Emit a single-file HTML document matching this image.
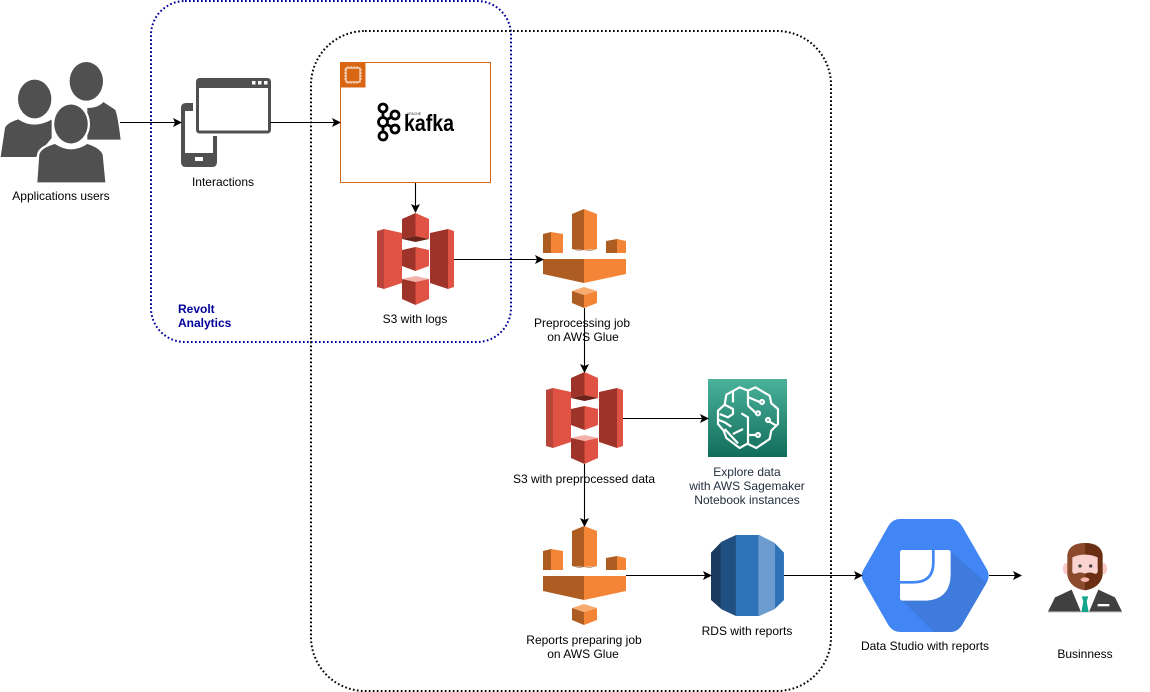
<!DOCTYPE html>
<html><head><meta charset="utf-8"><style>
html,body{margin:0;padding:0;background:#fff;width:1150px;height:692px;overflow:hidden}
svg{display:block}
text{font-family:"Liberation Sans",Arial,sans-serif;font-size:12px;fill:#000;text-anchor:middle}
</style></head><body>
<svg width="1150" height="692" viewBox="0 0 1150 692" xmlns="http://www.w3.org/2000/svg">
<defs>
<marker id="a" markerWidth="10" markerHeight="10" refX="8" refY="4.500" orient="auto" markerUnits="userSpaceOnUse"><path d="M0 0L9 4.500L0 9L2 4.500Z" fill="#000"/></marker>
<linearGradient id="sg" x1="0" y1="0" x2="0" y2="1"><stop offset="0" stop-color="#4AB29A"/><stop offset="1" stop-color="#116D5B"/></linearGradient>
<clipPath id="rc"><path d="M543 98L575 65L618 45H688L733 68L762 98V240L733 268L688 288H618L575 268L543 240Z"/></clipPath>
<clipPath id="hc"><path d="M40 180L115 48Q128 27 150 27H302Q322 27 336 48L412 180Q420 197 412 214L336 345Q322 366 302 366H150Q128 366 115 345L40 214Q30 197 40 180Z"/></clipPath>
<g id="s3">
<path d="M0 18L7 16V76L0 74Z" fill="#B8443A"/>
<path d="M7 16L25 20V70L7 76Z" fill="#E05243"/>
<path d="M71 16L77 18V74L71 76Z" fill="#E05243"/>
<path d="M53 20L71 16V76L53 70Z" fill="#9E3329"/>
<path d="M38.500 0L25 6V26L38.500 23Z" fill="#9E3329"/>
<path d="M38.500 0L52 6V26L38.500 23Z" fill="#E05243"/>
<path d="M25 26L38.500 23L52 26L38.500 29Z" fill="#6B2319"/>
<path d="M38.500 34L25 37V53L38.500 58Z" fill="#9E3329"/>
<path d="M38.500 34L52 37V53L38.500 58Z" fill="#E05243"/>
<path d="M25 66L38.500 63L52 66L38.500 69Z" fill="#F2B0A9"/>
<path d="M25 66L38.500 69V92L25 86Z" fill="#9E3329"/>
<path d="M52 66L38.500 69V92L52 86Z" fill="#E05243"/>
</g>
<g id="glue">
<path d="M584 209L572 214V249L584 250Z" fill="#AD5C22"/><path d="M584 209L597 214V249L584 250Z" fill="#F58536"/>
<path d="M572 249Q584 253 597 249L584 251Z" fill="#6B3A16"/>
<path d="M551 232L543 234V253H551Z" fill="#AD5C22"/><path d="M551 232L563 234V253H551Z" fill="#F58536"/>
<path d="M617 239L606 241V253H617Z" fill="#AD5C22"/><path d="M617 239L626 241V253H617Z" fill="#F58536"/>
<path d="M543 259H584V283L543 274Z" fill="#AD5C22"/><path d="M626 259H584V283L626 274Z" fill="#F58536"/>
<path d="M572 291L584 287L597 291L584 295Z" fill="#F8AB6F"/>
<path d="M572 291L584 295V308L572 303Z" fill="#AD5C22"/><path d="M597 291L584 295V308L597 303Z" fill="#F58536"/>
</g>
</defs>

<rect x="151" y="1" width="360" height="341" rx="34" fill="none" stroke="#000099" stroke-width="2" stroke-dasharray="1.700 2.300"/>
<rect x="311" y="31" width="520" height="660" rx="54" fill="none" stroke="#000" stroke-width="2" stroke-dasharray="1.700 2.300"/>

<!-- Users -->
<g transform="translate(0,58) scale(.3333)" fill="#505050">
<ellipse cx="259" cy="70" rx="50" ry="58"/>
<path d="M262 245V150Q295 150 310 132L345 155Q352 165 362 245Z"/>
<ellipse cx="104" cy="123" rx="50" ry="58"/>
<path d="M2 297L15 210Q20 195 55 184Q100 215 155 185V240L108 297Z"/>
<ellipse cx="213" cy="198" rx="50" ry="58" stroke="#fff" stroke-width="14" paint-order="stroke"/>
<path d="M112 373L118 290Q122 270 165 258Q213 290 262 258Q300 270 308 290L316 373Z" stroke="#fff" stroke-width="14" paint-order="stroke"/>
<ellipse cx="213" cy="198" rx="50" ry="58"/>
</g>

<!-- Interactions -->
<path d="M193 103H186Q181 103 181 108V162Q181 167 186 167H212Q217 167 217 162V136H213V153H185V111H193Z" fill="#505050"/>
<rect x="195" y="157" width="8" height="4" fill="#fff"/>
<rect x="197.500" y="79.500" width="72" height="52.500" rx="2" fill="#fff" stroke="#505050" stroke-width="3"/>
<rect x="197" y="79" width="73" height="9" fill="#505050"/>
<rect x="252" y="81" width="3.500" height="3.500" fill="#fff"/><rect x="258" y="81" width="3.500" height="3.500" fill="#fff"/><rect x="264" y="81" width="3.500" height="3.500" fill="#fff"/>

<!-- Kafka box -->
<rect x="340.500" y="62.500" width="150" height="120" fill="#fff" stroke="#D86613" stroke-width="1"/>
<rect x="340" y="62" width="25.500" height="25.500" fill="#D86613"/>
<rect x="346" y="68" width="14" height="14" fill="none" stroke="#fff" stroke-width="1"/>
<path d="M348 66V68M351 66V68M354 66V68M357 66V68M348 82V84M351 82V84M354 82V84M357 82V84M344 70H346M344 73H346M344 76H346M344 79H346M360 70H362M360 73H362M360 76H362M360 79H362" stroke="#fff" stroke-width=".7"/>
<g fill="#fff" stroke="#000" stroke-width="2.800">
<path d="M383 108V136M383 122L395 115M383 122L395 129" fill="none"/>
<circle cx="383" cy="108" r="4"/><circle cx="383" cy="136" r="4"/><circle cx="383" cy="122" r="4.500"/><circle cx="395" cy="115" r="4"/><circle cx="395" cy="129" r="4"/>
</g>
<text x="429" y="131" style="font-size:23px;font-weight:bold;fill:#000" textLength="50" lengthAdjust="spacingAndGlyphs">kafka</text>
<text x="414" y="115" style="font-size:3.500px;fill:#222">APACHE</text>

<!-- AWS icons -->
<use href="#s3" x="377" y="213"/>
<use href="#glue"/>
<use href="#s3" x="546" y="372"/>
<use href="#glue" y="317"/>

<!-- SageMaker -->
<rect x="708" y="379" width="79" height="78" fill="url(#sg)"/>
<g transform="translate(703,374) scale(.3333)" fill="none" stroke="#fff" stroke-width="6.500" stroke-linejoin="round">
<path d="M135 95V50L157 40L200 65L205 88L225 105V150L205 170L200 195L160 222L135 210V130L115 118"/>
<path d="M135 50L110 40L70 62L65 92L45 110V150L62 170L70 192L110 222L135 208"/>
<path d="M90 50V85M65 92L90 105V120L75 130L50 120M45 137L65 145L85 158M120 165L90 180M65 165L105 208M135 95L158 116M137 70L170 84M220 155L200 143M158 183H135"/>
<circle cx="177" cy="84" r="6"/><circle cx="165" cy="118" r="6"/><circle cx="195" cy="138" r="6"/><circle cx="165" cy="183" r="6"/>
</g>

<!-- RDS -->
<g transform="translate(530,520) scale(.3333)" clip-path="url(#rc)">
<rect x="543" y="45" width="30" height="243" fill="#1A3A60"/>
<rect x="572" y="45" width="46" height="243" fill="#205081"/>
<rect x="618" y="45" width="68" height="243" fill="#2E73B8"/>
<rect x="686" y="45" width="49" height="243" fill="#6C9BCF"/>
<rect x="735" y="45" width="27" height="243" fill="#2E73B8"/>
</g>

<!-- Data Studio -->
<g transform="translate(850,510) scale(.3333)">
<g clip-path="url(#hc)">
<rect x="30" y="20" width="395" height="350" fill="#4285F4"/>
<path d="M302 125L430 235V370H255L150 265Z" fill="#3F7BDD"/>
</g>
<path d="M158 120H294Q302 120 302 128V190Q302 272 220 272H158Q150 272 150 264V128Q150 120 158 120Z" fill="#fff"/>
<path d="M150 217H190Q250 217 250 158V120" fill="none" stroke="#4285F4" stroke-width="8"/>
</g>

<!-- Businessman -->
<g transform="translate(1040,538) scale(.3333)">
<path d="M24 221L45 178L95 155H175L225 178L246 221Z" fill="#404040"/>
<path d="M24 221H246V224H24Z" fill="#ccc"/>
<path d="M95 155L115 145H155L175 155L147 222H123Z" fill="#fff"/>
<path d="M125 175H145L140 190L146 222H124L130 190Z" fill="#13A68C"/>
<rect x="173" y="198" width="35" height="7" fill="#fff"/>
<ellipse cx="78" cy="92" rx="9" ry="17" fill="#F8C9C5"/><ellipse cx="192" cy="92" rx="9" ry="17" fill="#F8C9C5"/>
<path d="M135 15Q88 15 82 50V112Q90 150 135 157Z" fill="#8B4A2B"/>
<path d="M135 15Q182 15 188 50V112Q180 150 135 157Z" fill="#6B2F14"/>
<path d="M97 58Q135 42 173 58V90Q176 110 163 107Q150 100 135 107Q120 100 107 107Q94 110 97 90Z" fill="#FAD2CF"/>
<ellipse cx="135" cy="125" rx="13" ry="7" fill="#F7B5AE"/>
<circle cx="120" cy="84" r="5" fill="#444"/><circle cx="152" cy="84" r="5" fill="#444"/>
</g>

<!-- Connectors -->
<g fill="none" stroke="#000" stroke-width="1.100" marker-end="url(#a)">
<path d="M120 122.500H181"/>
<path d="M270 122.500H340"/>
<path d="M415.500 183V212"/>
<path d="M454 259.500H543"/>
<path d="M584.500 308V372"/>
<path d="M584.500 464V526"/>
<path d="M623 418.500H708"/>
<path d="M626 575.500H711"/>
<path d="M784 575.500H862"/>
<path d="M989 575.500H1021"/>
</g>

<!-- Labels -->
<text x="61" y="200">Applications users</text>
<text x="223" y="186">Interactions</text>
<text x="415" y="323">S3 with logs</text>
<text x="582" y="327">Preprocessing job</text>
<text x="583" y="341">on AWS Glue</text>
<text x="584" y="483">S3 with preprocessed data</text>
<text x="747" y="476" style="fill:#232F3E">Explore data</text>
<text x="747" y="490" style="fill:#232F3E">with AWS Sagemaker</text>
<text x="747" y="504" style="fill:#232F3E">Notebook instances</text>
<text x="584" y="644">Reports preparing job</text>
<text x="583" y="658">on AWS Glue</text>
<text x="747" y="635">RDS with reports</text>
<text x="925" y="650">Data Studio with reports</text>
<text x="1085" y="658">Businness</text>
<text x="178" y="313" style="text-anchor:start;font-weight:bold;fill:#000099">Revolt</text>
<text x="178" y="327" style="text-anchor:start;font-weight:bold;fill:#000099">Analytics</text>
</svg>
</body></html>
